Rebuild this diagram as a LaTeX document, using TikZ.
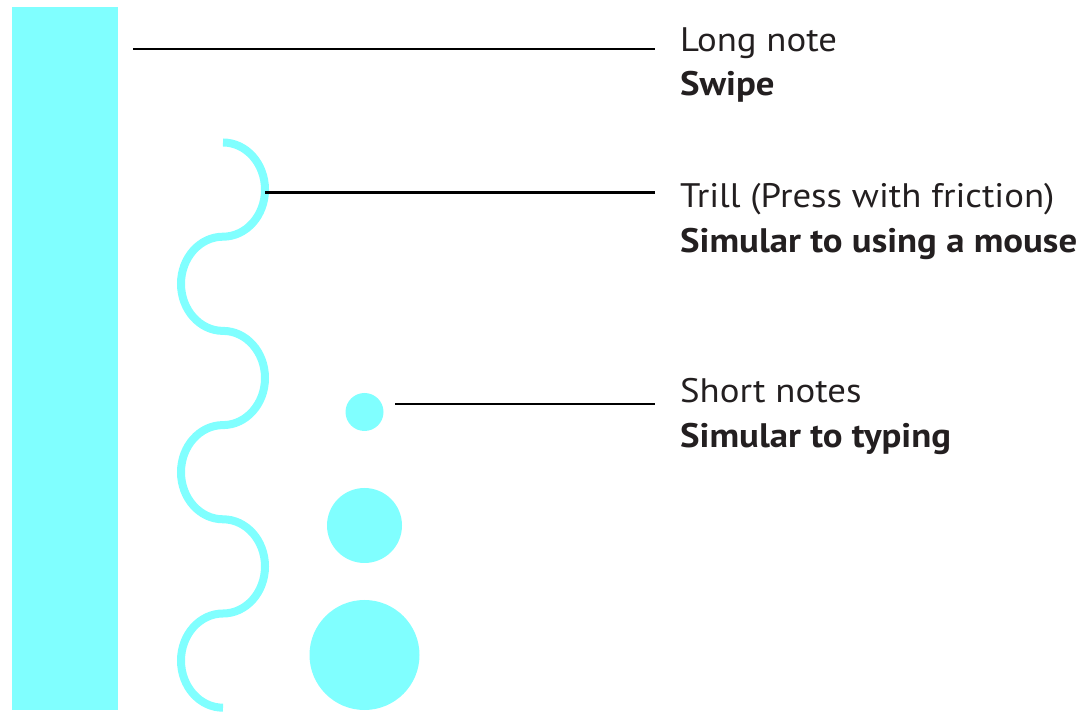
\documentclass[tikz,border=0pt]{standalone}
\usepackage{fontspec}
\setmainfont{PT Sans}[FakeStretch=1.082]
\definecolor{notecyan}{HTML}{80FFFF}
\definecolor{txt}{HTML}{231F20}
\begin{document}
\begin{tikzpicture}[x=1pt,y=1pt,
  cyanfill/.style={fill=notecyan,draw=none},
  wave/.style={draw=notecyan,line width=8pt},
  lead/.style={draw=black,line width=2.4pt},
  lbl/.style={anchor=base west,inner sep=0pt,text=txt,font=\fontsize{34}{40}\selectfont},
  lblb/.style={lbl,font=\fontsize{34}{40}\selectfont\bfseries}]
\useasboundingbox (0,0) rectangle (1084,712);
% long note
\fill[cyanfill] (12,2) rectangle (118,704.5);
% trill wave
\draw[wave] (223,569.5)
  arc[start angle=90,end angle=-90,x radius=42,y radius=47.1]
  arc[start angle=90,end angle=270,x radius=42,y radius=47.1]
  arc[start angle=90,end angle=-90,x radius=42,y radius=47.1]
  arc[start angle=90,end angle=270,x radius=42,y radius=47.1]
  arc[start angle=90,end angle=-90,x radius=42,y radius=47.1]
  arc[start angle=90,end angle=270,x radius=42,y radius=47.1];
% short notes
\node[circle,cyanfill,minimum size=38pt,inner sep=0pt] (c1) at (364.5,300) {};
\node[circle,cyanfill,minimum size=75pt,inner sep=0pt] (c2) at (364.5,186.5) {};
\node[circle,cyanfill,minimum size=110pt,inner sep=0pt] (c3) at (364.5,57) {};
% labels
\node[lbl] (t1a) at (680,660) {Long note};
\node[lblb] (t1b) at (680,616) {Swipe};
\node[lbl] (t2a) at (680,504) {Trill (Press with friction)};
\node[lblb] (t2b) at (680,459) {Simular to using a mouse};
\node[lbl] (t3a) at (680,309) {Short notes};
\node[lblb] (t3b) at (680,264) {Simular to typing};
% leaders
\coordinate (l1s) at (133,663);
\coordinate (l1e) at (655,663);
\coordinate (l2s) at (265,519.5);
\coordinate (l2e) at (655,519.5);
\coordinate (l3s) at (395,308);
\coordinate (l3e) at (655,308);
\draw[lead] (l1s) -- (l1e);
\draw[lead] (l2s) -- (l2e);
\draw[lead] (l3s) -- (l3e);
\end{tikzpicture}
\end{document}
